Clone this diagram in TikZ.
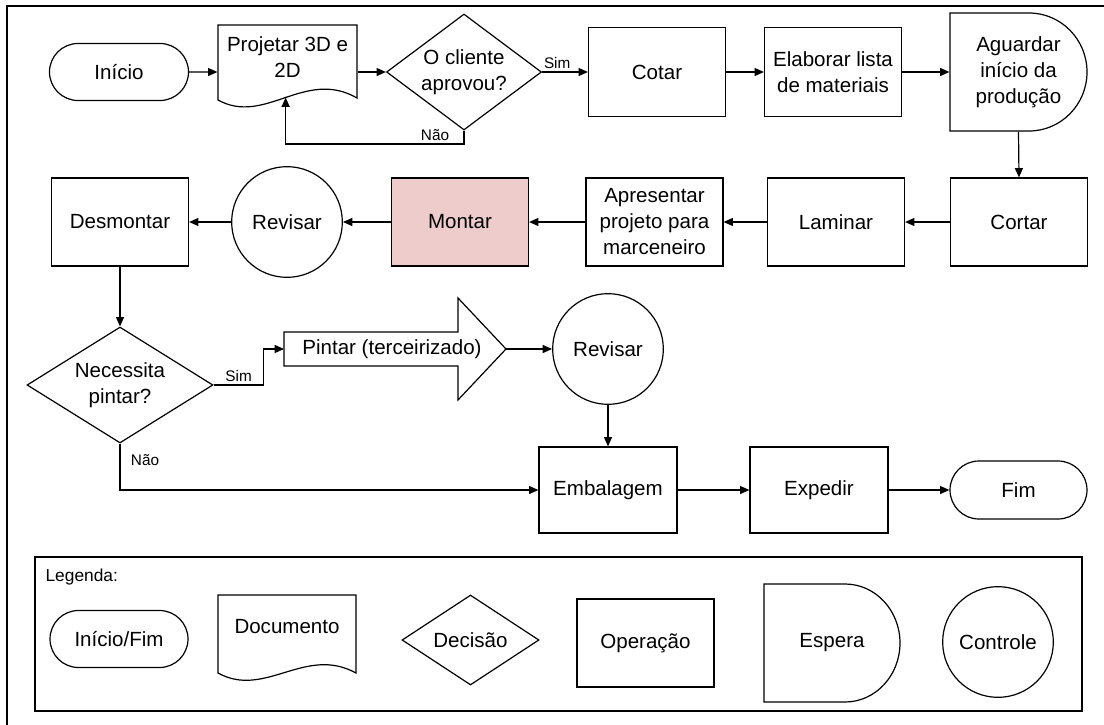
\documentclass[tikz,border=0pt]{standalone}
\usepackage{fontspec}
\setmainfont{Liberation Sans}
\usetikzlibrary{shapes.geometric,shapes.misc,arrows.meta,calc}
\definecolor{pinkfill}{RGB}{238,204,204}
\begin{document}
\begin{tikzpicture}[x=0.75pt,y=-0.75pt,
  line width=0.9pt,
  every node/.style={font=\fontsize{15.4}{19.5}\selectfont, align=center, inner sep=0pt},
  opbox/.style={draw, rectangle, minimum width=102.75pt, minimum height=66pt},
  term/.style={draw, rounded rectangle, minimum width=104pt, minimum height=43pt},
  ctrl/.style={draw, circle, minimum size=83pt},
  deci/.style={draw, diamond, inner sep=0pt},
  arr/.style={-{Triangle[length=7pt,width=6pt]}},
  lbl/.style={font=\fontsize{11.5}{13}\selectfont},
]
\useasboundingbox (0,0) rectangle (1104,725);
\draw (7,725) -- (7,6) -- (1104,6);

% ---- row 1
\node[term, minimum width=104.25pt, minimum height=42.75pt] (inicio) at (119,72) {Início};
\node[minimum width=104.25pt, minimum height=69pt] (proj) at (287.5,72) {};
\draw (218,100) -- (218,25) -- (357,25) -- (357,98)
  .. controls (305,68) and (265,126) .. coordinate[pos=0.5] (projin) (218,100) -- cycle;
\node (projt) at (287.5,57) {Projetar 3D e\\2D};
\node[deci, minimum width=116.25pt, minimum height=87pt] (dec1) at (464,72) {};
\node (dec1t) at (dec1) {O cliente\\aprovou?};
\node[opbox, minimum height=66.75pt] (cotar) at (657,72) {Cotar};
\node[opbox, minimum height=66.75pt] (elab) at (833,72) {Elaborar lista\\de materiais};
\node[minimum width=102.75pt, minimum height=88.5pt] (agu) at (1018.5,72) {Aguardar\\início da\\produção};
\draw (950,13) -- (1029,13) arc[start angle=90,end angle=-90,x radius=43.5pt,y radius=44.25pt] -- (950,131) -- cycle;

\draw[arr] (inicio) -- (proj.west);
\draw[arr] (proj.east) -- (dec1.west);
\draw[arr] (dec1.east) -- node[lbl, above=2pt, pos=0.33] {Sim} (cotar.west);
\draw[arr] (cotar) -- (elab);
\draw[arr] (elab) -- (agu.west);
\draw[arr] (dec1.south) -- (dec1.south |- 0,144) -| (projin);
\node[lbl] (nao1) at ($(dec1.south)+(-29,4)$) {Não};

% ---- row 2
\node[opbox] (cortar) at (1019,222) {Cortar};
\node[opbox] (lamin) at (836,222) {Laminar};
\node[opbox] (apres) at (654.5,222) {Apresentar\\projeto para\\marceneiro};
\node[opbox, fill=pinkfill] (montar) at (460,222) {Montar};
\node[ctrl] (rev1) at (287,222) {Revisar};
\node[opbox] (desm) at (120,222) {Desmontar};

\draw[arr] (agu.south) -- (cortar.north);
\draw[arr] (cortar) -- (lamin);
\draw[arr] (lamin) -- (apres);
\draw[arr] (apres) -- (montar);
\draw[arr] (montar) -- (rev1);
\draw[arr] (rev1) -- (desm);

% ---- row 3
\node[deci, minimum width=139.5pt, minimum height=87pt] (dec2) at (120,385) {};
\node (dec2t) at (dec2) {Necessita\\pintar?};
\draw (284,332) -- (458,332) -- (458,298) -- (506,349) -- (458,400) -- (458,366) -- (284,366) -- cycle;
\coordinate (pintl) at (284,349);
\coordinate (pintr) at (506,349);
\node (pint) at (392,349) {Pintar (terceirizado)};
\node[ctrl] (rev2) at (608,349) {Revisar};
\node[opbox, minimum width=103.5pt, minimum height=64.5pt] (emb) at (608,490) {Embalagem};
\node[opbox, minimum width=103.5pt, minimum height=64.5pt] (exped) at (819,490) {Expedir};
\node[term, minimum width=102.75pt, minimum height=43.5pt] (fim) at (1018.5,490) {Fim};

\draw[arr] (desm) -- (dec2);
\draw[arr] (dec2.east) -- node[lbl, above=2pt] {Sim} ++(50,0) |- (pintl);
\draw[arr] (pintr) -- (rev2);
\draw[arr] (rev2) -- (emb);
\draw[arr] (dec2.south) |- (emb.west);
\node[lbl] (nao2) at ($(dec2.south)+(25,16)$) {Não};
\draw[arr] (emb) -- (exped);
\draw[arr] (exped) -- (fim);

% ---- legend
\draw (35,557) rectangle (1082,711);
\node[anchor=west, font=\fontsize{13}{15}\selectfont] (leg) at (45,577) {Legenda:};
\node[term, minimum width=103.5pt, minimum height=42.75pt] (l1) at (119,639) {Início/Fim};
\draw (218,673) -- (218,595) -- (356,595) -- (356,673)
  .. controls (305,645) and (265,699) .. (218,673) -- cycle;
\node (l2) at (287,627) {Documento};
\node[deci, minimum width=102.75pt, minimum height=67.5pt] (l3) at (470.5,640) {};
\node (l3t) at (l3) {Decisão};
\node[opbox] (l4) at (645.5,643) {Operação};
\draw (764,584) -- (845,584) arc[start angle=90,end angle=-90,x radius=41.25pt,y radius=44.25pt] -- (764,702) -- cycle;
\node (l5) at (832,643) {Espera};
\node[ctrl] (l6) at (998,642) {Controle};
\end{tikzpicture}
\end{document}
